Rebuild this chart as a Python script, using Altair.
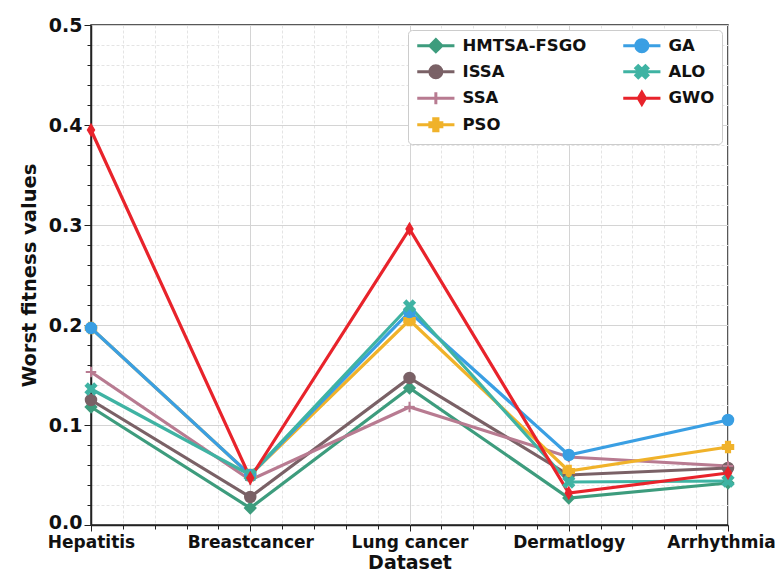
import altair as alt
import pandas as pd
import re

datasets = ["Hepatitis", "Breastcancer", "Lung cancer", "Dermatlogy", "Arrhythmia"]
algorithms = ["HMTSA-FSGO", "ISSA", "SSA", "PSO", "GA", "ALO", "GWO"]
colors = ["#3d9c7d", "#7a6166", "#b87b91", "#f0b22a", "#3a9fe3", "#3fb3a3", "#e8232b"]

hmtsa = [0.118, 0.017, 0.137, 0.027, 0.042]
issa = [0.125, 0.028, 0.147, 0.050, 0.057]
ssa = [0.153, 0.045, 0.118, 0.068, 0.059]
pso = [0.197, 0.050, 0.205, 0.054, 0.078]
ga = [0.197, 0.050, 0.213, 0.070, 0.105]
alo = [0.136, 0.050, 0.219, 0.043, 0.044]
gwo = [0.395, 0.047, 0.296, 0.032, 0.052]
series = [hmtsa, issa, ssa, pso, ga, alo, gwo]

rows = []
for a, vals in zip(algorithms, series):
    for i, v in enumerate(vals):
        rows.append({"idx": i, "alg": a, "leg": a, "value": v})
df = pd.DataFrame(rows)

legend_order = algorithms
legend_colors = colors

mk = {
    "HMTSA-FSGO": "diamond",
    "ISSA": "circle",
    "SSA": "M-1,0L1,0M0,-1L0,1",
    "PSO": "cross",
    "GA": "circle",
    "ALO": "M-1,-0.6L-0.6,-1L0,-0.4L0.6,-1L1,-0.6L0.4,0L1,0.6L0.6,1L0,0.4L-0.6,1L-1,0.6L-0.4,0Z",
    "GWO": "M0,-1L0.6,0L0,1L-0.6,0Z",
}
plot_shapes = [mk[a] for a in legend_order]


def shift(p, dx):
    tokens = re.findall(r"[MLZ]|-?\d*\.?\d+", p)
    res = ""
    i = 0
    while i < len(tokens):
        t = tokens[i]
        if t in ("M", "L"):
            x = float(tokens[i + 1]) + dx
            y = float(tokens[i + 2])
            res += f"{t}{x:g},{y:g}"
            i += 3
        else:
            res += t
            i += 1
    return res


diamond_path = "M0,-1L1,0L0,1L-1,0Z"
cross_path = "M-0.35,-1L0.35,-1L0.35,-0.35L1,-0.35L1,0.35L0.35,0.35L0.35,1L-0.35,1L-0.35,0.35L-1,0.35L-1,-0.35L-0.35,-0.35Z"
leg_mk = dict(mk)
leg_mk["HMTSA-FSGO"] = diamond_path
leg_mk["PSO"] = cross_path
leg_shapes = []
for a in legend_order:
    if a in ("ISSA", "GA"):
        body = "M3.1,0A1,1,0,1,1,1.1,0A1,1,0,1,1,3.1,0Z"
    else:
        body = shift(leg_mk[a], 2.1)
    leg_shapes.append("M-1,0L5.2,0" + body)

x_vals = [round(i * 0.2, 1) for i in range(21)]
y_vals = [round(i * 0.02, 2) for i in range(26)]

xmaj = "datum.value % 1 === 0"
ymaj = "round(datum.value*100) % 10 === 0"

x_enc = alt.X(
    "idx:Q",
    scale=alt.Scale(domain=[0, 4], nice=False, zero=False),
    title="Dataset",
    axis=alt.Axis(
        values=x_vals,
        labelExpr=xmaj + " ? " + str(datasets) + "[datum.value] : ''",
        labelOffset={"condition": {"test": "datum.value === 4", "value": -7}, "value": 0},
        tickSize={"condition": {"test": xmaj, "value": 6}, "value": 4},
        gridDash={"condition": {"test": xmaj, "value": []}, "value": [3, 2]},
        gridColor={"condition": {"test": xmaj, "value": "#d4d4d4"}, "value": "#e4e4e4"},
        labelAngle=0,
        labelFlush=False,
        labelOverlap=False,
    ),
)
y_enc = alt.Y(
    "value:Q",
    scale=alt.Scale(domain=[0, 0.5], nice=False),
    title="Worst fitness values",
    axis=alt.Axis(
        values=y_vals,
        labelExpr=ymaj + " ? format(datum.value, '.1f') : ''",
        labelOffset={"condition": {"test": "datum.value === 0", "value": -3}, "value": 0},
        tickSize={"condition": {"test": ymaj, "value": 7}, "value": 4},
        gridDash={"condition": {"test": ymaj, "value": []}, "value": [3, 2]},
        gridColor={"condition": {"test": ymaj, "value": "#d4d4d4"}, "value": "#e4e4e4"},
        labelOverlap=False,
    ),
)

cscale = alt.Scale(domain=legend_order, range=legend_colors)

lines = alt.Chart(df).mark_line(strokeWidth=3.2).encode(
    x=x_enc,
    y=y_enc,
    color=alt.Color("alg:N", scale=cscale, legend=None),
    order=alt.Order("idx:Q"),
)

points = alt.Chart(df).mark_point(filled=True, size=110, opacity=1, strokeWidth=2).encode(
    x=x_enc,
    y=y_enc,
    fill=alt.Fill("alg:N", scale=cscale, legend=None),
    stroke=alt.Stroke("alg:N", scale=cscale, legend=None),
    shape=alt.Shape("alg:N", scale=alt.Scale(domain=legend_order, range=plot_shapes), legend=None),
)

lscale = alt.Scale(domain=legend_order, range=legend_colors)
legend = alt.Legend(
    title=None,
    orient="none",
    legendX=317,
    legendY=5,
    columns=2,
    columnPadding=30,
    rowPadding=1.5,
    symbolSize=144,
    symbolStrokeWidth=3,
    labelOffset=31,
    labelFont="DejaVu Sans",
    labelFontWeight="bold",
    labelFontSize=16.5,
    labelColor="#111",
    padding=7,
    strokeColor="#cccccc",
    cornerRadius=4,
    fillColor="white",
    symbolOpacity=1,
)
legend_layer = alt.Chart(df).transform_filter("datum.idx < 0").mark_point(filled=True, opacity=1).encode(
    x=x_enc,
    y=y_enc,
    fill=alt.Fill("leg:N", scale=lscale, legend=legend),
    stroke=alt.Stroke("leg:N", scale=lscale, legend=legend),
    shape=alt.Shape("leg:N", scale=alt.Scale(domain=legend_order, range=leg_shapes), legend=legend),
)

chart = (
    alt.layer(lines, points, legend_layer)
    .resolve_scale(shape="independent", fill="independent", stroke="independent", color="independent")
    .properties(
        width=637,
        height=500,
        autosize=alt.AutoSizeParams(type="none"),
        padding={"left": 83, "top": 17, "right": 47, "bottom": 48},
        background="white",
    )
    .configure_view(stroke="#222", strokeWidth=1.5)
    .configure_axis(
        labelFont="DejaVu Sans",
        labelFontWeight="bold",
        labelFontSize=17,
        labelColor="#111",
        titleFont="DejaVu Sans",
        titleFontWeight="bold",
        titleFontSize=19,
        titleColor="#111",
        domainColor="#222",
        tickColor="#222",
        domainWidth=1.5,
        grid=True,
    )
    .configure_axisY(labelFontSize=19, titlePadding=9, titleFontSize=19.5)
    .configure_axisX(titlePadding=3, labelPadding=3)
)

chart.save("out.html", embed_options={"renderer": "svg", "actions": False})
